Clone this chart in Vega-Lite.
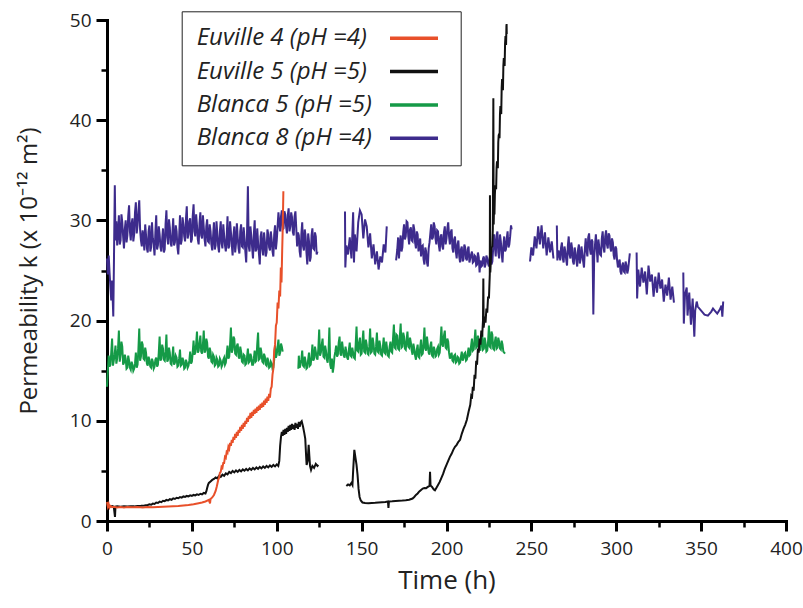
{
"$schema":"https://vega.github.io/schema/vega-lite/v6.json",
"width":679,"height":501,
"autosize":{"type":"none"},
"padding":{"left":107,"top":20,"right":17,"bottom":87},
"config":{"view":{"stroke":null},"font":"Open Sans"},
"datasets":{"pts":[
{"s":"B8","g":"a","t":0,"k":26.2},{"s":"B8","g":"a","t":0.5,"k":24.6},{"s":"B8","g":"a","t":1,"k":26.5},{"s":"B8","g":"a","t":1.5,"k":24.8},{"s":"B8","g":"a","t":2.5,"k":22},{"s":"B8","g":"a","t":3,"k":24},{"s":"B8","g":"a","t":3.7,"k":20.4},{"s":"B8","g":"a","t":4.1,"k":26},{"s":"B8","g":"a","t":4.6,"k":33.5},{"s":"B8","g":"a","t":5,"k":28},
{"s":"B8","g":"a","t":6,"k":27.5},{"s":"B8","g":"a","t":7,"k":30.5},{"s":"B8","g":"a","t":8,"k":28},{"s":"B8","g":"a","t":9,"k":29.8},{"s":"B8","g":"a","t":10,"k":27.2},{"s":"B8","g":"a","t":11,"k":30},{"s":"B8","g":"a","t":12,"k":28.5},{"s":"B8","g":"a","t":13,"k":31.5},{"s":"B8","g":"a","t":14,"k":28},{"s":"B8","g":"a","t":15,"k":30.2},
{"s":"B8","g":"a","t":16,"k":28.6},{"s":"B8","g":"a","t":17,"k":31.8},{"s":"B8","g":"a","t":18,"k":29.5},{"s":"B8","g":"a","t":19,"k":32},{"s":"B8","g":"a","t":20,"k":28},{"s":"B8","g":"a","t":21,"k":29},{"s":"B8","g":"a","t":22,"k":27},{"s":"B8","g":"a","t":23,"k":28.5},{"s":"B8","g":"a","t":24,"k":26.8},{"s":"B8","g":"a","t":25,"k":29.5},
{"s":"B8","g":"a","t":26,"k":27.3},{"s":"B8","g":"a","t":27,"k":28.2},{"s":"B8","g":"a","t":28,"k":26.5},{"s":"B8","g":"a","t":29,"k":30.5},{"s":"B8","g":"a","t":30,"k":27.5},{"s":"B8","g":"a","t":31,"k":28.6},{"s":"B8","g":"a","t":32,"k":26.9},{"s":"B8","g":"a","t":33,"k":29.2},{"s":"B8","g":"a","t":34,"k":27.1},{"s":"B8","g":"a","t":35,"k":31},
{"s":"B8","g":"a","t":36,"k":27.6},{"s":"B8","g":"a","t":37,"k":29.3},{"s":"B8","g":"a","t":38,"k":27.4},{"s":"B8","g":"a","t":39,"k":30.2},{"s":"B8","g":"a","t":40,"k":27.8},{"s":"B8","g":"a","t":41,"k":28.9},{"s":"B8","g":"a","t":42,"k":26.6},{"s":"B8","g":"a","t":43,"k":30.5},{"s":"B8","g":"a","t":44,"k":28},{"s":"B8","g":"a","t":45,"k":29.6},
{"s":"B8","g":"a","t":46,"k":27.9},{"s":"B8","g":"a","t":47,"k":31.4},{"s":"B8","g":"a","t":48,"k":28.6},{"s":"B8","g":"a","t":49,"k":30.2},{"s":"B8","g":"a","t":50,"k":28.1},{"s":"B8","g":"a","t":51,"k":31.6},{"s":"B8","g":"a","t":52,"k":28.4},{"s":"B8","g":"a","t":53,"k":29.5},{"s":"B8","g":"a","t":54,"k":27.6},{"s":"B8","g":"a","t":55,"k":30.8},
{"s":"B8","g":"a","t":56,"k":28.2},{"s":"B8","g":"a","t":57,"k":29.3},{"s":"B8","g":"a","t":58,"k":27.4},{"s":"B8","g":"a","t":59,"k":30.1},{"s":"B8","g":"a","t":60,"k":27.8},{"s":"B8","g":"a","t":61,"k":28.9},{"s":"B8","g":"a","t":62,"k":27},{"s":"B8","g":"a","t":63,"k":29.8},{"s":"B8","g":"a","t":64,"k":27.5},{"s":"B8","g":"a","t":65,"k":28.6},
{"s":"B8","g":"a","t":66,"k":26.8},{"s":"B8","g":"a","t":67,"k":29.9},{"s":"B8","g":"a","t":68,"k":27.2},{"s":"B8","g":"a","t":69,"k":28.5},{"s":"B8","g":"a","t":70,"k":26.9},{"s":"B8","g":"a","t":71,"k":30.4},{"s":"B8","g":"a","t":72,"k":27.4},{"s":"B8","g":"a","t":73,"k":28.8},{"s":"B8","g":"a","t":74,"k":26.5},{"s":"B8","g":"a","t":75,"k":29.4},
{"s":"B8","g":"a","t":76,"k":27.7},{"s":"B8","g":"a","t":77,"k":28.3},{"s":"B8","g":"a","t":78,"k":26.7},{"s":"B8","g":"a","t":79,"k":29.6},{"s":"B8","g":"a","t":80,"k":27.3},{"s":"B8","g":"a","t":81,"k":28.2},{"s":"B8","g":"a","t":82,"k":25.8},{"s":"B8","g":"a","t":83,"k":33.4},{"s":"B8","g":"a","t":84,"k":26.9},{"s":"B8","g":"a","t":85,"k":28.4},
{"s":"B8","g":"a","t":86,"k":26.2},{"s":"B8","g":"a","t":87,"k":30},{"s":"B8","g":"a","t":88,"k":27.1},{"s":"B8","g":"a","t":89,"k":27.8},{"s":"B8","g":"a","t":90,"k":25.6},{"s":"B8","g":"a","t":91,"k":28.9},{"s":"B8","g":"a","t":92,"k":26.5},{"s":"B8","g":"a","t":93,"k":27.9},{"s":"B8","g":"a","t":94,"k":26.8},{"s":"B8","g":"a","t":95,"k":28.6},
{"s":"B8","g":"a","t":96,"k":27},{"s":"B8","g":"a","t":97,"k":28.1},{"s":"B8","g":"a","t":98,"k":26.4},{"s":"B8","g":"a","t":99,"k":29.5},{"s":"B8","g":"a","t":100,"k":28},{"s":"B8","g":"a","t":101,"k":30.8},{"s":"B8","g":"a","t":102,"k":28.9},{"s":"B8","g":"a","t":103,"k":31},{"s":"B8","g":"a","t":104,"k":29.2},{"s":"B8","g":"a","t":105,"k":30.6},
{"s":"B8","g":"a","t":106,"k":28.7},{"s":"B8","g":"a","t":107,"k":31.2},{"s":"B8","g":"a","t":108,"k":29.4},{"s":"B8","g":"a","t":109,"k":30.3},{"s":"B8","g":"a","t":110,"k":28.5},{"s":"B8","g":"a","t":111,"k":30.9},{"s":"B8","g":"a","t":112,"k":27.4},{"s":"B8","g":"a","t":113,"k":28.5},{"s":"B8","g":"a","t":114,"k":26.3},{"s":"B8","g":"a","t":115,"k":29.8},
{"s":"B8","g":"a","t":116,"k":27},{"s":"B8","g":"a","t":117,"k":28.4},{"s":"B8","g":"a","t":118,"k":25.6},{"s":"B8","g":"a","t":119,"k":27.9},{"s":"B8","g":"a","t":120,"k":26.3},{"s":"B8","g":"a","t":121,"k":29.2},{"s":"B8","g":"a","t":122,"k":27.1},{"s":"B8","g":"a","t":123,"k":28.4},{"s":"B8","g":"a","t":124,"k":26.9},
{"s":"B8","g":"b","t":140.2,"k":30.9},{"s":"B8","g":"b","t":140.4,"k":25.3},{"s":"B8","g":"b","t":141,"k":27.5},{"s":"B8","g":"b","t":142,"k":26.6},{"s":"B8","g":"b","t":143,"k":28.3},{"s":"B8","g":"b","t":144,"k":26.2},{"s":"B8","g":"b","t":145,"k":30.8},{"s":"B8","g":"b","t":145.5,"k":25.8},{"s":"B8","g":"b","t":146,"k":28.6},{"s":"B8","g":"b","t":147,"k":26.9},
{"s":"B8","g":"b","t":148,"k":29.8},{"s":"B8","g":"b","t":149,"k":31},{"s":"B8","g":"b","t":150,"k":30.6},{"s":"B8","g":"b","t":151,"k":28.2},{"s":"B8","g":"b","t":152,"k":30.1},{"s":"B8","g":"b","t":153,"k":29.4},{"s":"B8","g":"b","t":154,"k":27.3},{"s":"B8","g":"b","t":155,"k":28.7},{"s":"B8","g":"b","t":156,"k":26.2},{"s":"B8","g":"b","t":157,"k":27.6},
{"s":"B8","g":"b","t":158,"k":25.6},{"s":"B8","g":"b","t":159,"k":26.9},{"s":"B8","g":"b","t":160,"k":25.1},{"s":"B8","g":"b","t":161,"k":26.4},{"s":"B8","g":"b","t":162,"k":25.8},{"s":"B8","g":"b","t":163,"k":27.6},{"s":"B8","g":"b","t":164,"k":26.8},{"s":"B8","g":"b","t":164.8,"k":29.4},
{"s":"B8","g":"c","t":170.3,"k":26},{"s":"B8","g":"c","t":171,"k":27.1},{"s":"B8","g":"c","t":172,"k":26.2},{"s":"B8","g":"c","t":173,"k":28.5},{"s":"B8","g":"c","t":174,"k":27.3},{"s":"B8","g":"c","t":175,"k":29.6},{"s":"B8","g":"c","t":176,"k":28.4},{"s":"B8","g":"c","t":177,"k":29.8},{"s":"B8","g":"c","t":178,"k":27.6},{"s":"B8","g":"c","t":179,"k":29.3},
{"s":"B8","g":"c","t":180,"k":27.9},{"s":"B8","g":"c","t":181,"k":29.1},{"s":"B8","g":"c","t":182,"k":27.2},{"s":"B8","g":"c","t":183,"k":28.6},{"s":"B8","g":"c","t":184,"k":27.5},{"s":"B8","g":"c","t":185,"k":26.4},{"s":"B8","g":"c","t":186,"k":27.5},{"s":"B8","g":"c","t":187,"k":25.6},{"s":"B8","g":"c","t":188,"k":26.9},{"s":"B8","g":"c","t":189,"k":25.4},
{"s":"B8","g":"c","t":190,"k":27.8},{"s":"B8","g":"c","t":191,"k":29.6},{"s":"B8","g":"c","t":192,"k":28.3},{"s":"B8","g":"c","t":193,"k":29.4},{"s":"B8","g":"c","t":194,"k":27.6},{"s":"B8","g":"c","t":195,"k":28.9},{"s":"B8","g":"c","t":196,"k":26.9},{"s":"B8","g":"c","t":197,"k":28.6},{"s":"B8","g":"c","t":198,"k":27.1},{"s":"B8","g":"c","t":199,"k":29.4},
{"s":"B8","g":"c","t":200,"k":28.2},{"s":"B8","g":"c","t":201,"k":29.8},{"s":"B8","g":"c","t":202,"k":27.6},{"s":"B8","g":"c","t":203,"k":29.1},{"s":"B8","g":"c","t":204,"k":26.8},{"s":"B8","g":"c","t":205,"k":28.4},{"s":"B8","g":"c","t":206,"k":26.2},{"s":"B8","g":"c","t":207,"k":28},{"s":"B8","g":"c","t":208,"k":25.8},{"s":"B8","g":"c","t":209,"k":27.4},
{"s":"B8","g":"c","t":210,"k":26.1},{"s":"B8","g":"c","t":211,"k":27.3},{"s":"B8","g":"c","t":212,"k":26},{"s":"B8","g":"c","t":213,"k":27.4},{"s":"B8","g":"c","t":214,"k":26.2},{"s":"B8","g":"c","t":215,"k":26.9},{"s":"B8","g":"c","t":216,"k":25.9},{"s":"B8","g":"c","t":217,"k":26.4},{"s":"B8","g":"c","t":218,"k":25.6},{"s":"B8","g":"c","t":219,"k":26.3},
{"s":"B8","g":"c","t":219.5,"k":24.8},{"s":"B8","g":"c","t":220,"k":26},{"s":"B8","g":"c","t":221,"k":25.5},{"s":"B8","g":"c","t":222,"k":26.4},{"s":"B8","g":"c","t":223,"k":25.6},{"s":"B8","g":"c","t":224,"k":26.2},{"s":"B8","g":"c","t":225,"k":25.4},{"s":"B8","g":"c","t":226,"k":26.1},{"s":"B8","g":"c","t":227,"k":25.9},{"s":"B8","g":"c","t":228,"k":28.6},
{"s":"B8","g":"c","t":229,"k":26.4},{"s":"B8","g":"c","t":230,"k":28.9},{"s":"B8","g":"c","t":231,"k":26.2},{"s":"B8","g":"c","t":232,"k":27.9},{"s":"B8","g":"c","t":233,"k":25.8},{"s":"B8","g":"c","t":234,"k":28.4},{"s":"B8","g":"c","t":235,"k":27.1},{"s":"B8","g":"c","t":236,"k":28.9},{"s":"B8","g":"c","t":237,"k":27.6},{"s":"B8","g":"c","t":238,"k":29.5},{"s":"B8","g":"c","t":238.4,"k":29.1},
{"s":"B8","g":"d","t":249.2,"k":25.9},{"s":"B8","g":"d","t":250,"k":27.3},{"s":"B8","g":"d","t":251,"k":26.5},{"s":"B8","g":"d","t":252,"k":28.4},{"s":"B8","g":"d","t":253,"k":27.2},{"s":"B8","g":"d","t":254,"k":29.4},{"s":"B8","g":"d","t":255,"k":27.6},{"s":"B8","g":"d","t":256,"k":29.5},{"s":"B8","g":"d","t":257,"k":27.2},{"s":"B8","g":"d","t":258,"k":28.8},
{"s":"B8","g":"d","t":259,"k":26.5},{"s":"B8","g":"d","t":260,"k":28.3},{"s":"B8","g":"d","t":261,"k":26.8},{"s":"B8","g":"d","t":262,"k":27.9},{"s":"B8","g":"d","t":263,"k":26.2},
{"s":"B8","g":"e","t":265,"k":29.5},{"s":"B8","g":"e","t":265.3,"k":26},{"s":"B8","g":"e","t":266,"k":27},{"s":"B8","g":"e","t":267,"k":26},{"s":"B8","g":"e","t":268,"k":27.8},{"s":"B8","g":"e","t":269,"k":25.8},{"s":"B8","g":"e","t":270,"k":26.9},{"s":"B8","g":"e","t":271,"k":25.5},{"s":"B8","g":"e","t":272,"k":28.4},{"s":"B8","g":"e","t":273,"k":26.2},
{"s":"B8","g":"e","t":274,"k":27.2},{"s":"B8","g":"e","t":275,"k":25.6},{"s":"B8","g":"e","t":276,"k":26.8},{"s":"B8","g":"e","t":277,"k":25.4},{"s":"B8","g":"e","t":278,"k":27.6},{"s":"B8","g":"e","t":279,"k":26.1},{"s":"B8","g":"e","t":280,"k":26.7},{"s":"B8","g":"e","t":281,"k":25.3},{"s":"B8","g":"e","t":282,"k":28.2},{"s":"B8","g":"e","t":283,"k":26.4},
{"s":"B8","g":"e","t":284,"k":28.7},{"s":"B8","g":"e","t":285,"k":26.6},{"s":"B8","g":"e","t":286,"k":27.9},{"s":"B8","g":"e","t":286.5,"k":20.6},{"s":"B8","g":"e","t":287,"k":26.3},{"s":"B8","g":"e","t":288,"k":28.6},{"s":"B8","g":"e","t":289,"k":25.8},{"s":"B8","g":"e","t":290,"k":27.3},{"s":"B8","g":"e","t":291,"k":26.5},{"s":"B8","g":"e","t":292,"k":28.9},
{"s":"B8","g":"e","t":293,"k":26.8},{"s":"B8","g":"e","t":294,"k":29},{"s":"B8","g":"e","t":295,"k":27.2},{"s":"B8","g":"e","t":296,"k":28.5},{"s":"B8","g":"e","t":297,"k":26.9},{"s":"B8","g":"e","t":298,"k":27.8},{"s":"B8","g":"e","t":299,"k":26.1},{"s":"B8","g":"e","t":300,"k":27.2},{"s":"B8","g":"e","t":301,"k":25.3},{"s":"B8","g":"e","t":302,"k":26.1},
{"s":"B8","g":"e","t":303,"k":24.6},{"s":"B8","g":"e","t":304,"k":25.8},{"s":"B8","g":"e","t":305,"k":24.8},{"s":"B8","g":"e","t":306,"k":25.5},{"s":"B8","g":"e","t":307,"k":25.1},{"s":"B8","g":"e","t":308,"k":26.7},
{"s":"B8","g":"f","t":312,"k":26.8},{"s":"B8","g":"f","t":312.3,"k":22.2},{"s":"B8","g":"f","t":313,"k":25.1},{"s":"B8","g":"f","t":314,"k":23.4},{"s":"B8","g":"f","t":315,"k":25.3},{"s":"B8","g":"f","t":316,"k":23.8},{"s":"B8","g":"f","t":317,"k":24.9},{"s":"B8","g":"f","t":318,"k":22.6},{"s":"B8","g":"f","t":319,"k":25.5},{"s":"B8","g":"f","t":320,"k":23.9},
{"s":"B8","g":"f","t":321,"k":24.6},{"s":"B8","g":"f","t":322,"k":22.4},{"s":"B8","g":"f","t":323,"k":24.4},{"s":"B8","g":"f","t":324,"k":22.8},{"s":"B8","g":"f","t":325,"k":24.8},{"s":"B8","g":"f","t":326,"k":23.2},{"s":"B8","g":"f","t":327,"k":24.1},{"s":"B8","g":"f","t":328,"k":21.9},{"s":"B8","g":"f","t":329,"k":23.6},{"s":"B8","g":"f","t":330,"k":22.5},
{"s":"B8","g":"f","t":331,"k":24.3},{"s":"B8","g":"f","t":332,"k":22.1},{"s":"B8","g":"f","t":333,"k":23.4},{"s":"B8","g":"f","t":334,"k":21.8},
{"s":"B8","g":"g","t":339.5,"k":24.8},{"s":"B8","g":"g","t":339.8,"k":19.7},{"s":"B8","g":"g","t":340.5,"k":22.6},{"s":"B8","g":"g","t":341.5,"k":23.3},{"s":"B8","g":"g","t":342,"k":20.5},{"s":"B8","g":"g","t":343,"k":22.8},{"s":"B8","g":"g","t":344,"k":19.6},{"s":"B8","g":"g","t":345,"k":22.2},{"s":"B8","g":"g","t":346,"k":18.4},{"s":"B8","g":"g","t":346.5,"k":21},
{"s":"B8","g":"g","t":347.4,"k":21.9},{"s":"B8","g":"g","t":348,"k":21.4},{"s":"B8","g":"g","t":350,"k":21},{"s":"B8","g":"g","t":352,"k":20.6},{"s":"B8","g":"g","t":354,"k":20.5},{"s":"B8","g":"g","t":356,"k":20.9},{"s":"B8","g":"g","t":357,"k":21.2},{"s":"B8","g":"g","t":358,"k":21},{"s":"B8","g":"g","t":359.5,"k":20.7},{"s":"B8","g":"g","t":361,"k":21.1},
{"s":"B8","g":"g","t":362,"k":21.5},{"s":"B8","g":"g","t":362.5,"k":20.4},{"s":"B8","g":"g","t":363,"k":21.9},
{"s":"B5","g":"a","t":0,"k":13.4},{"s":"B5","g":"a","t":0.5,"k":15},{"s":"B5","g":"a","t":1,"k":16.5},{"s":"B5","g":"a","t":2,"k":15.6},{"s":"B5","g":"a","t":3,"k":18.2},{"s":"B5","g":"a","t":4,"k":16},{"s":"B5","g":"a","t":5,"k":17.5},{"s":"B5","g":"a","t":6,"k":16.2},{"s":"B5","g":"a","t":7,"k":19},{"s":"B5","g":"a","t":8,"k":16.6},
{"s":"B5","g":"a","t":9,"k":17.4},{"s":"B5","g":"a","t":10,"k":15.8},{"s":"B5","g":"a","t":11,"k":16.2},{"s":"B5","g":"a","t":12,"k":15.3},{"s":"B5","g":"a","t":13,"k":16},{"s":"B5","g":"a","t":14,"k":15.1},{"s":"B5","g":"a","t":15,"k":15.6},{"s":"B5","g":"a","t":16,"k":15.2},{"s":"B5","g":"a","t":17,"k":16.8},{"s":"B5","g":"a","t":18,"k":15.6},
{"s":"B5","g":"a","t":19,"k":19.2},{"s":"B5","g":"a","t":20,"k":16.4},{"s":"B5","g":"a","t":21,"k":17.6},{"s":"B5","g":"a","t":22,"k":16.1},{"s":"B5","g":"a","t":23,"k":16.8},{"s":"B5","g":"a","t":24,"k":15.5},{"s":"B5","g":"a","t":25,"k":16.1},{"s":"B5","g":"a","t":26,"k":15.3},{"s":"B5","g":"a","t":27,"k":15.9},{"s":"B5","g":"a","t":28,"k":15.4},
{"s":"B5","g":"a","t":29,"k":16.3},{"s":"B5","g":"a","t":30,"k":15.6},{"s":"B5","g":"a","t":31,"k":18.4},{"s":"B5","g":"a","t":32,"k":16.2},{"s":"B5","g":"a","t":33,"k":17.2},{"s":"B5","g":"a","t":34,"k":16},{"s":"B5","g":"a","t":35,"k":18.6},{"s":"B5","g":"a","t":36,"k":16.1},{"s":"B5","g":"a","t":37,"k":16.8},{"s":"B5","g":"a","t":38,"k":15.6},
{"s":"B5","g":"a","t":39,"k":17.4},{"s":"B5","g":"a","t":40,"k":15.8},{"s":"B5","g":"a","t":41,"k":16.3},{"s":"B5","g":"a","t":42,"k":15.5},{"s":"B5","g":"a","t":43,"k":17.1},{"s":"B5","g":"a","t":44,"k":15.6},{"s":"B5","g":"a","t":45,"k":16},{"s":"B5","g":"a","t":46,"k":15.3},{"s":"B5","g":"a","t":47,"k":15.8},{"s":"B5","g":"a","t":48,"k":15.5},
{"s":"B5","g":"a","t":49,"k":16.9},{"s":"B5","g":"a","t":50,"k":15.9},{"s":"B5","g":"a","t":51,"k":18},{"s":"B5","g":"a","t":52,"k":16.8},{"s":"B5","g":"a","t":53,"k":18.9},{"s":"B5","g":"a","t":54,"k":17},{"s":"B5","g":"a","t":55,"k":18.5},{"s":"B5","g":"a","t":56,"k":16.7},{"s":"B5","g":"a","t":57,"k":19},{"s":"B5","g":"a","t":58,"k":17},
{"s":"B5","g":"a","t":59,"k":17.8},{"s":"B5","g":"a","t":60,"k":16.2},{"s":"B5","g":"a","t":61,"k":16.9},{"s":"B5","g":"a","t":62,"k":15.8},{"s":"B5","g":"a","t":63,"k":16.4},{"s":"B5","g":"a","t":64,"k":15.6},{"s":"B5","g":"a","t":65,"k":16.1},{"s":"B5","g":"a","t":66,"k":15.5},{"s":"B5","g":"a","t":67,"k":16},{"s":"B5","g":"a","t":68,"k":15.6},
{"s":"B5","g":"a","t":69,"k":16.3},{"s":"B5","g":"a","t":70,"k":15.8},{"s":"B5","g":"a","t":71,"k":17.5},{"s":"B5","g":"a","t":72,"k":16.4},{"s":"B5","g":"a","t":73,"k":19.3},{"s":"B5","g":"a","t":74,"k":17.1},{"s":"B5","g":"a","t":75,"k":18.2},{"s":"B5","g":"a","t":76,"k":16.6},{"s":"B5","g":"a","t":77,"k":17.7},{"s":"B5","g":"a","t":78,"k":16.2},
{"s":"B5","g":"a","t":79,"k":16.9},{"s":"B5","g":"a","t":80,"k":15.8},{"s":"B5","g":"a","t":81,"k":16.5},{"s":"B5","g":"a","t":82,"k":15.7},{"s":"B5","g":"a","t":83,"k":17.2},{"s":"B5","g":"a","t":84,"k":15.9},{"s":"B5","g":"a","t":85,"k":16.4},{"s":"B5","g":"a","t":86,"k":15.6},{"s":"B5","g":"a","t":87,"k":17},{"s":"B5","g":"a","t":88,"k":16},
{"s":"B5","g":"a","t":89,"k":18.8},{"s":"B5","g":"a","t":90,"k":16.2},{"s":"B5","g":"a","t":91,"k":16.8},{"s":"B5","g":"a","t":92,"k":15.8},{"s":"B5","g":"a","t":93,"k":16.4},{"s":"B5","g":"a","t":94,"k":15.5},{"s":"B5","g":"a","t":95,"k":16},{"s":"B5","g":"a","t":96,"k":15.4},{"s":"B5","g":"a","t":97,"k":15.7},{"s":"B5","g":"a","t":98,"k":15.3},
{"s":"B5","g":"a","t":99,"k":17.5},{"s":"B5","g":"a","t":100,"k":16.6},{"s":"B5","g":"a","t":101,"k":18.1},{"s":"B5","g":"a","t":102,"k":16.8},{"s":"B5","g":"a","t":103,"k":17.4},{"s":"B5","g":"a","t":103.5,"k":16.9},
{"s":"B5","g":"b","t":112.7,"k":15.2},{"s":"B5","g":"b","t":113,"k":16.5},{"s":"B5","g":"b","t":114,"k":15.6},{"s":"B5","g":"b","t":115,"k":17},{"s":"B5","g":"b","t":116,"k":15.4},{"s":"B5","g":"b","t":117,"k":15.9},{"s":"B5","g":"b","t":118,"k":15.3},{"s":"B5","g":"b","t":119,"k":16.8},{"s":"B5","g":"b","t":120,"k":15.6},{"s":"B5","g":"b","t":121,"k":17.6},
{"s":"B5","g":"b","t":122,"k":16.2},{"s":"B5","g":"b","t":123,"k":16.9},{"s":"B5","g":"b","t":124,"k":16.1},{"s":"B5","g":"b","t":125,"k":19.1},{"s":"B5","g":"b","t":126,"k":16.8},{"s":"B5","g":"b","t":127,"k":18.2},{"s":"B5","g":"b","t":128,"k":16.3},{"s":"B5","g":"b","t":129,"k":17},{"s":"B5","g":"b","t":130,"k":15.8},{"s":"B5","g":"b","t":131,"k":19.3},
{"s":"B5","g":"b","t":132,"k":15.2},{"s":"B5","g":"b","t":133,"k":14.8},{"s":"B5","g":"b","t":134,"k":16.4},{"s":"B5","g":"b","t":135,"k":17.5},{"s":"B5","g":"b","t":136,"k":16.6},{"s":"B5","g":"b","t":137,"k":18.4},{"s":"B5","g":"b","t":138,"k":16.5},{"s":"B5","g":"b","t":139,"k":17.2},{"s":"B5","g":"b","t":140,"k":16.3},{"s":"B5","g":"b","t":141,"k":16.9},
{"s":"B5","g":"b","t":142,"k":16.1},{"s":"B5","g":"b","t":143,"k":17.8},{"s":"B5","g":"b","t":144,"k":16.4},{"s":"B5","g":"b","t":145,"k":16.8},{"s":"B5","g":"b","t":146,"k":16.2},{"s":"B5","g":"b","t":147,"k":19.4},{"s":"B5","g":"b","t":148,"k":16.9},{"s":"B5","g":"b","t":149,"k":18.3},{"s":"B5","g":"b","t":150,"k":16.7},{"s":"B5","g":"b","t":151,"k":19},
{"s":"B5","g":"b","t":152,"k":16.8},{"s":"B5","g":"b","t":153,"k":17.6},{"s":"B5","g":"b","t":154,"k":16.6},{"s":"B5","g":"b","t":155,"k":19.2},{"s":"B5","g":"b","t":156,"k":16.9},{"s":"B5","g":"b","t":157,"k":17.7},{"s":"B5","g":"b","t":158,"k":16.6},{"s":"B5","g":"b","t":159,"k":18.8},{"s":"B5","g":"b","t":160,"k":16.8},{"s":"B5","g":"b","t":161,"k":17.5},
{"s":"B5","g":"b","t":162,"k":16.5},{"s":"B5","g":"b","t":163,"k":18.3},{"s":"B5","g":"b","t":164,"k":16.7},{"s":"B5","g":"b","t":165,"k":17.2},{"s":"B5","g":"b","t":166,"k":16.4},{"s":"B5","g":"b","t":167,"k":17.9},{"s":"B5","g":"b","t":168,"k":16.8},{"s":"B5","g":"b","t":169,"k":19.6},{"s":"B5","g":"b","t":170,"k":17.2},{"s":"B5","g":"b","t":171,"k":18.5},
{"s":"B5","g":"b","t":172,"k":17.1},{"s":"B5","g":"b","t":173,"k":19.7},{"s":"B5","g":"b","t":174,"k":17.4},{"s":"B5","g":"b","t":175,"k":18.4},{"s":"B5","g":"b","t":176,"k":17.1},{"s":"B5","g":"b","t":177,"k":18.9},{"s":"B5","g":"b","t":178,"k":17.3},{"s":"B5","g":"b","t":179,"k":17.8},{"s":"B5","g":"b","t":180,"k":16.6},{"s":"B5","g":"b","t":181,"k":17.2},
{"s":"B5","g":"b","t":182,"k":16.1},{"s":"B5","g":"b","t":183,"k":17.6},{"s":"B5","g":"b","t":184,"k":16.3},{"s":"B5","g":"b","t":185,"k":18.1},{"s":"B5","g":"b","t":186,"k":16.7},{"s":"B5","g":"b","t":187,"k":19.3},{"s":"B5","g":"b","t":188,"k":17},{"s":"B5","g":"b","t":189,"k":17.6},{"s":"B5","g":"b","t":190,"k":16.6},{"s":"B5","g":"b","t":191,"k":17.9},
{"s":"B5","g":"b","t":192,"k":16.4},{"s":"B5","g":"b","t":193,"k":17.1},{"s":"B5","g":"b","t":194,"k":16.5},{"s":"B5","g":"b","t":195,"k":17.4},{"s":"B5","g":"b","t":196,"k":16.8},{"s":"B5","g":"b","t":197,"k":19.4},{"s":"B5","g":"b","t":198,"k":17.4},{"s":"B5","g":"b","t":199,"k":19},{"s":"B5","g":"b","t":200,"k":17.2},{"s":"B5","g":"b","t":201,"k":17.9},
{"s":"B5","g":"b","t":202,"k":16.2},{"s":"B5","g":"b","t":203,"k":16.8},{"s":"B5","g":"b","t":204,"k":15.9},{"s":"B5","g":"b","t":205,"k":16.6},{"s":"B5","g":"b","t":206,"k":15.9},{"s":"B5","g":"b","t":207,"k":16.3},{"s":"B5","g":"b","t":208,"k":15.8},{"s":"B5","g":"b","t":209,"k":16.9},{"s":"B5","g":"b","t":210,"k":16.2},{"s":"B5","g":"b","t":211,"k":16.8},
{"s":"B5","g":"b","t":212,"k":16.1},{"s":"B5","g":"b","t":213,"k":17.3},{"s":"B5","g":"b","t":214,"k":16.6},{"s":"B5","g":"b","t":215,"k":18.2},{"s":"B5","g":"b","t":216,"k":17.1},{"s":"B5","g":"b","t":217,"k":19.1},{"s":"B5","g":"b","t":218,"k":17.4},{"s":"B5","g":"b","t":219,"k":18},{"s":"B5","g":"b","t":220,"k":17},{"s":"B5","g":"b","t":221,"k":18.7},
{"s":"B5","g":"b","t":222,"k":17.2},{"s":"B5","g":"b","t":223,"k":17.8},{"s":"B5","g":"b","t":224,"k":17},{"s":"B5","g":"b","t":225,"k":19.5},{"s":"B5","g":"b","t":226,"k":17.3},{"s":"B5","g":"b","t":227,"k":18.6},{"s":"B5","g":"b","t":228,"k":17.1},{"s":"B5","g":"b","t":229,"k":18.4},{"s":"B5","g":"b","t":230,"k":17.3},{"s":"B5","g":"b","t":231,"k":17.9},
{"s":"B5","g":"b","t":232,"k":17.1},{"s":"B5","g":"b","t":233,"k":17.6},{"s":"B5","g":"b","t":234,"k":16.8},{"s":"B5","g":"b","t":234.5,"k":16.7},
{"s":"E5","g":"a","t":0,"k":1.7},{"s":"E5","g":"a","t":0.5,"k":1.45},{"s":"E5","g":"a","t":1,"k":1.55},{"s":"E5","g":"a","t":2,"k":1.45},{"s":"E5","g":"a","t":3,"k":1.5},{"s":"E5","g":"a","t":4,"k":1.42},{"s":"E5","g":"a","t":4.7,"k":0.4},{"s":"E5","g":"a","t":5,"k":1.45},{"s":"E5","g":"a","t":6,"k":1.48},{"s":"E5","g":"a","t":8,"k":1.42},
{"s":"E5","g":"a","t":10,"k":1.46},{"s":"E5","g":"a","t":12,"k":1.44},{"s":"E5","g":"a","t":14,"k":1.47},{"s":"E5","g":"a","t":16,"k":1.46},{"s":"E5","g":"a","t":18,"k":1.5},{"s":"E5","g":"a","t":20,"k":1.52},{"s":"E5","g":"a","t":22,"k":1.55},{"s":"E5","g":"a","t":24,"k":1.6},{"s":"E5","g":"a","t":25,"k":1.66},{"s":"E5","g":"a","t":26,"k":1.62},
{"s":"E5","g":"a","t":27,"k":1.74},{"s":"E5","g":"a","t":28,"k":1.7},{"s":"E5","g":"a","t":29,"k":1.84},{"s":"E5","g":"a","t":30,"k":1.8},{"s":"E5","g":"a","t":31,"k":1.93},{"s":"E5","g":"a","t":32,"k":1.88},{"s":"E5","g":"a","t":33,"k":2.02},{"s":"E5","g":"a","t":34,"k":1.98},{"s":"E5","g":"a","t":35,"k":2.1},{"s":"E5","g":"a","t":36,"k":2.05},
{"s":"E5","g":"a","t":37,"k":2.18},{"s":"E5","g":"a","t":38,"k":2.12},{"s":"E5","g":"a","t":39,"k":2.26},{"s":"E5","g":"a","t":40,"k":2.2},{"s":"E5","g":"a","t":41,"k":2.32},{"s":"E5","g":"a","t":42,"k":2.27},{"s":"E5","g":"a","t":43,"k":2.38},{"s":"E5","g":"a","t":44,"k":2.33},{"s":"E5","g":"a","t":45,"k":2.45},{"s":"E5","g":"a","t":46,"k":2.4},
{"s":"E5","g":"a","t":47,"k":2.5},{"s":"E5","g":"a","t":48,"k":2.45},{"s":"E5","g":"a","t":49,"k":2.56},{"s":"E5","g":"a","t":50,"k":2.5},{"s":"E5","g":"a","t":51,"k":2.6},{"s":"E5","g":"a","t":52,"k":2.55},{"s":"E5","g":"a","t":53,"k":2.66},{"s":"E5","g":"a","t":54,"k":2.6},{"s":"E5","g":"a","t":55,"k":2.72},{"s":"E5","g":"a","t":56,"k":2.66},
{"s":"E5","g":"a","t":57,"k":2.8},{"s":"E5","g":"a","t":58,"k":2.75},{"s":"E5","g":"a","t":58.5,"k":2.95},{"s":"E5","g":"a","t":59,"k":3.3},{"s":"E5","g":"a","t":59.5,"k":3.6},{"s":"E5","g":"a","t":60,"k":3.8},{"s":"E5","g":"a","t":61,"k":3.95},{"s":"E5","g":"a","t":62,"k":4.1},{"s":"E5","g":"a","t":63,"k":4.2},{"s":"E5","g":"a","t":64,"k":4.35},
{"s":"E5","g":"a","t":65,"k":4.25},{"s":"E5","g":"a","t":66,"k":4.5},{"s":"E5","g":"a","t":67,"k":4.4},{"s":"E5","g":"a","t":68,"k":4.62},{"s":"E5","g":"a","t":69,"k":4.5},{"s":"E5","g":"a","t":70,"k":4.75},{"s":"E5","g":"a","t":71,"k":4.65},{"s":"E5","g":"a","t":72,"k":4.9},{"s":"E5","g":"a","t":73,"k":4.78},{"s":"E5","g":"a","t":74,"k":5},
{"s":"E5","g":"a","t":75,"k":4.85},{"s":"E5","g":"a","t":76,"k":5.05},{"s":"E5","g":"a","t":77,"k":4.9},{"s":"E5","g":"a","t":78,"k":5.1},{"s":"E5","g":"a","t":79,"k":4.95},{"s":"E5","g":"a","t":80,"k":5.15},{"s":"E5","g":"a","t":81,"k":5.02},{"s":"E5","g":"a","t":82,"k":5.2},{"s":"E5","g":"a","t":83,"k":5.05},{"s":"E5","g":"a","t":84,"k":5.25},
{"s":"E5","g":"a","t":85,"k":5.1},{"s":"E5","g":"a","t":86,"k":5.3},{"s":"E5","g":"a","t":87,"k":5.15},{"s":"E5","g":"a","t":88,"k":5.35},{"s":"E5","g":"a","t":89,"k":5.2},{"s":"E5","g":"a","t":90,"k":5.4},{"s":"E5","g":"a","t":91,"k":5.25},{"s":"E5","g":"a","t":92,"k":5.45},{"s":"E5","g":"a","t":93,"k":5.3},{"s":"E5","g":"a","t":94,"k":5.5},
{"s":"E5","g":"a","t":95,"k":5.35},{"s":"E5","g":"a","t":96,"k":5.55},{"s":"E5","g":"a","t":97,"k":5.4},{"s":"E5","g":"a","t":98,"k":5.6},{"s":"E5","g":"a","t":99,"k":5.45},{"s":"E5","g":"a","t":100,"k":5.65},{"s":"E5","g":"a","t":100.9,"k":5.5},{"s":"E5","g":"a","t":101.5,"k":6},{"s":"E5","g":"a","t":102,"k":7.5},{"s":"E5","g":"a","t":102.5,"k":8.4},
{"s":"E5","g":"a","t":103,"k":8.9},{"s":"E5","g":"a","t":103.5,"k":8.5},{"s":"E5","g":"a","t":104,"k":9.1},{"s":"E5","g":"a","t":104.5,"k":8.6},{"s":"E5","g":"a","t":105,"k":9.2},{"s":"E5","g":"a","t":105.5,"k":8.7},{"s":"E5","g":"a","t":106,"k":9.3},{"s":"E5","g":"a","t":106.5,"k":8.9},{"s":"E5","g":"a","t":107,"k":9.5},{"s":"E5","g":"a","t":107.5,"k":9},
{"s":"E5","g":"a","t":108,"k":9.6},{"s":"E5","g":"a","t":108.5,"k":9.1},{"s":"E5","g":"a","t":109,"k":9.7},{"s":"E5","g":"a","t":109.5,"k":9.2},{"s":"E5","g":"a","t":110,"k":9.6},{"s":"E5","g":"a","t":110.5,"k":9.1},{"s":"E5","g":"a","t":111,"k":9.8},{"s":"E5","g":"a","t":111.5,"k":9.3},{"s":"E5","g":"a","t":112,"k":9.7},{"s":"E5","g":"a","t":112.5,"k":9.2},
{"s":"E5","g":"a","t":113,"k":9.9},{"s":"E5","g":"a","t":113.5,"k":9.4},{"s":"E5","g":"a","t":114,"k":9.8},{"s":"E5","g":"a","t":114.7,"k":9.95},{"s":"E5","g":"a","t":115.5,"k":9.4},{"s":"E5","g":"a","t":116.2,"k":8.8},{"s":"E5","g":"a","t":116.8,"k":8.2},{"s":"E5","g":"a","t":117.3,"k":6.5},{"s":"E5","g":"a","t":117.6,"k":5.6},{"s":"E5","g":"a","t":118.2,"k":6},
{"s":"E5","g":"a","t":118.8,"k":7.6},{"s":"E5","g":"a","t":119.2,"k":6.5},{"s":"E5","g":"a","t":119.6,"k":5.5},{"s":"E5","g":"a","t":120.2,"k":5.1},{"s":"E5","g":"a","t":121,"k":5.5},{"s":"E5","g":"a","t":122,"k":5.3},{"s":"E5","g":"a","t":123,"k":5.7},{"s":"E5","g":"a","t":124,"k":5.5},{"s":"E5","g":"a","t":124.5,"k":5.6},
{"s":"E5","g":"b","t":141,"k":3.5},{"s":"E5","g":"b","t":142,"k":3.65},{"s":"E5","g":"b","t":143,"k":3.55},{"s":"E5","g":"b","t":144,"k":3.8},{"s":"E5","g":"b","t":144.6,"k":3.6},{"s":"E5","g":"b","t":145,"k":5},{"s":"E5","g":"b","t":145.7,"k":7.1},{"s":"E5","g":"b","t":146.3,"k":6.4},{"s":"E5","g":"b","t":147,"k":5.6},{"s":"E5","g":"b","t":147.6,"k":4.6},
{"s":"E5","g":"b","t":148.2,"k":3.2},{"s":"E5","g":"b","t":148.8,"k":2.4},{"s":"E5","g":"b","t":149.5,"k":2.05},{"s":"E5","g":"b","t":150.5,"k":1.85},{"s":"E5","g":"b","t":152,"k":1.8},{"s":"E5","g":"b","t":154,"k":1.78},{"s":"E5","g":"b","t":156,"k":1.8},{"s":"E5","g":"b","t":158,"k":1.82},{"s":"E5","g":"b","t":160,"k":1.85},{"s":"E5","g":"b","t":162,"k":1.88},
{"s":"E5","g":"b","t":164,"k":1.9},{"s":"E5","g":"b","t":165.5,"k":1.95},{"s":"E5","g":"b","t":165.8,"k":1.3},{"s":"E5","g":"b","t":166.1,"k":1.95},{"s":"E5","g":"b","t":168,"k":1.97},{"s":"E5","g":"b","t":170,"k":2},{"s":"E5","g":"b","t":172,"k":2.03},{"s":"E5","g":"b","t":174,"k":2.05},{"s":"E5","g":"b","t":176,"k":2.08},{"s":"E5","g":"b","t":178,"k":2.12},
{"s":"E5","g":"b","t":180,"k":2.24},{"s":"E5","g":"b","t":181,"k":2.4},{"s":"E5","g":"b","t":182,"k":2.6},{"s":"E5","g":"b","t":183,"k":2.75},{"s":"E5","g":"b","t":184,"k":2.95},{"s":"E5","g":"b","t":185,"k":3.1},{"s":"E5","g":"b","t":186,"k":3.24},{"s":"E5","g":"b","t":187,"k":3.3},{"s":"E5","g":"b","t":188,"k":3.28},{"s":"E5","g":"b","t":189,"k":3.4},
{"s":"E5","g":"b","t":190,"k":3.5},{"s":"E5","g":"b","t":190.3,"k":4.9},{"s":"E5","g":"b","t":190.6,"k":3.55},{"s":"E5","g":"b","t":191.5,"k":3.4},{"s":"E5","g":"b","t":192.5,"k":3.15},{"s":"E5","g":"b","t":193.2,"k":3.07},{"s":"E5","g":"b","t":194,"k":3.3},{"s":"E5","g":"b","t":195,"k":3.6},{"s":"E5","g":"b","t":196,"k":3.9},{"s":"E5","g":"b","t":197,"k":4.3},
{"s":"E5","g":"b","t":198,"k":4.7},{"s":"E5","g":"b","t":199,"k":5.2},{"s":"E5","g":"b","t":200,"k":5.6},{"s":"E5","g":"b","t":201,"k":6},{"s":"E5","g":"b","t":202,"k":6.4},{"s":"E5","g":"b","t":203,"k":6.7},{"s":"E5","g":"b","t":204,"k":7.1},{"s":"E5","g":"b","t":205,"k":7.4},{"s":"E5","g":"b","t":206,"k":7.6},{"s":"E5","g":"b","t":207,"k":7.9},
{"s":"E5","g":"b","t":208,"k":8.1},{"s":"E5","g":"b","t":209,"k":8.7},{"s":"E5","g":"b","t":210,"k":9.2},{"s":"E5","g":"b","t":211,"k":9.6},{"s":"E5","g":"b","t":212,"k":10.1},{"s":"E5","g":"b","t":213,"k":10.9},{"s":"E5","g":"b","t":214,"k":11.6},{"s":"E5","g":"b","t":214.5,"k":12.4},{"s":"E5","g":"b","t":215,"k":12.2},{"s":"E5","g":"b","t":215.5,"k":13.4},
{"s":"E5","g":"b","t":216,"k":13},{"s":"E5","g":"b","t":216.5,"k":14.6},{"s":"E5","g":"b","t":217,"k":14.2},{"s":"E5","g":"b","t":217.5,"k":16},{"s":"E5","g":"b","t":218,"k":15.6},{"s":"E5","g":"b","t":218.5,"k":17.2},{"s":"E5","g":"b","t":219,"k":16.8},{"s":"E5","g":"b","t":219.5,"k":18.2},{"s":"E5","g":"b","t":220,"k":17.6},{"s":"E5","g":"b","t":220.5,"k":19},
{"s":"E5","g":"b","t":221,"k":18.4},{"s":"E5","g":"b","t":221.5,"k":20},{"s":"E5","g":"b","t":221.7,"k":24.2},{"s":"E5","g":"b","t":221.9,"k":19.3},{"s":"E5","g":"b","t":222.5,"k":20.4},{"s":"E5","g":"b","t":223,"k":19.8},{"s":"E5","g":"b","t":223.5,"k":21.2},{"s":"E5","g":"b","t":224,"k":20.8},{"s":"E5","g":"b","t":224.5,"k":22.4},{"s":"E5","g":"b","t":225,"k":22.2},
{"s":"E5","g":"b","t":225.5,"k":24.6},{"s":"E5","g":"b","t":225.6,"k":32.5},{"s":"E5","g":"b","t":225.8,"k":24.8},{"s":"E5","g":"b","t":226,"k":25.5},{"s":"E5","g":"b","t":226.5,"k":27.3},{"s":"E5","g":"b","t":227,"k":27.4},{"s":"E5","g":"b","t":227.3,"k":29.2},{"s":"E5","g":"b","t":227.6,"k":42.2},{"s":"E5","g":"b","t":227.8,"k":29.6},{"s":"E5","g":"b","t":228,"k":31.3},
{"s":"E5","g":"b","t":228.5,"k":32.6},{"s":"E5","g":"b","t":229,"k":33.4},{"s":"E5","g":"b","t":229.5,"k":35.2},{"s":"E5","g":"b","t":230,"k":35.8},{"s":"E5","g":"b","t":230.5,"k":37.8},{"s":"E5","g":"b","t":231,"k":38.6},{"s":"E5","g":"b","t":231.5,"k":40.6},{"s":"E5","g":"b","t":232,"k":41.2},{"s":"E5","g":"b","t":232.5,"k":43.2},{"s":"E5","g":"b","t":233,"k":43.6},
{"s":"E5","g":"b","t":233.5,"k":45.4},{"s":"E5","g":"b","t":234,"k":45.8},{"s":"E5","g":"b","t":234.5,"k":47.6},{"s":"E5","g":"b","t":235,"k":47.8},{"s":"E5","g":"b","t":235.3,"k":49.4},{"s":"E5","g":"b","t":235.5,"k":48.6},
{"s":"E4","g":"a","t":0,"k":1.9},{"s":"E4","g":"a","t":0.5,"k":1.45},{"s":"E4","g":"a","t":1,"k":1.7},{"s":"E4","g":"a","t":1.5,"k":1.35},{"s":"E4","g":"a","t":2,"k":1.5},{"s":"E4","g":"a","t":3,"k":1.38},{"s":"E4","g":"a","t":4,"k":1.42},{"s":"E4","g":"a","t":6,"k":1.35},{"s":"E4","g":"a","t":8,"k":1.4},{"s":"E4","g":"a","t":10,"k":1.36},
{"s":"E4","g":"a","t":12,"k":1.4},{"s":"E4","g":"a","t":15,"k":1.37},{"s":"E4","g":"a","t":18,"k":1.4},{"s":"E4","g":"a","t":21,"k":1.36},{"s":"E4","g":"a","t":24,"k":1.4},{"s":"E4","g":"a","t":27,"k":1.37},{"s":"E4","g":"a","t":30,"k":1.4},{"s":"E4","g":"a","t":33,"k":1.42},{"s":"E4","g":"a","t":36,"k":1.45},{"s":"E4","g":"a","t":39,"k":1.47},
{"s":"E4","g":"a","t":42,"k":1.5},{"s":"E4","g":"a","t":45,"k":1.55},{"s":"E4","g":"a","t":48,"k":1.6},{"s":"E4","g":"a","t":51,"k":1.68},{"s":"E4","g":"a","t":54,"k":1.78},{"s":"E4","g":"a","t":56,"k":1.85},{"s":"E4","g":"a","t":58,"k":1.95},{"s":"E4","g":"a","t":60,"k":2.1},{"s":"E4","g":"a","t":60.7,"k":1.75},{"s":"E4","g":"a","t":61,"k":2.2},
{"s":"E4","g":"a","t":62,"k":2.35},{"s":"E4","g":"a","t":63,"k":2.6},{"s":"E4","g":"a","t":64,"k":3},{"s":"E4","g":"a","t":64.6,"k":3.4},{"s":"E4","g":"a","t":65,"k":3.7},{"s":"E4","g":"a","t":65.5,"k":4.1},{"s":"E4","g":"a","t":66,"k":4.3},{"s":"E4","g":"a","t":66.5,"k":4.8},{"s":"E4","g":"a","t":67,"k":4.9},{"s":"E4","g":"a","t":67.5,"k":5.4},
{"s":"E4","g":"a","t":68,"k":5.3},{"s":"E4","g":"a","t":68.5,"k":5.8},{"s":"E4","g":"a","t":69,"k":5.8},{"s":"E4","g":"a","t":69.5,"k":6.4},{"s":"E4","g":"a","t":70,"k":6.3},{"s":"E4","g":"a","t":70.5,"k":6.9},{"s":"E4","g":"a","t":71,"k":6.8},{"s":"E4","g":"a","t":71.5,"k":7.4},{"s":"E4","g":"a","t":72,"k":7.2},{"s":"E4","g":"a","t":72.5,"k":7.8},
{"s":"E4","g":"a","t":73,"k":7.5},{"s":"E4","g":"a","t":73.5,"k":8.1},{"s":"E4","g":"a","t":74,"k":7.8},{"s":"E4","g":"a","t":74.5,"k":8.4},{"s":"E4","g":"a","t":75,"k":8.1},{"s":"E4","g":"a","t":75.5,"k":8.7},{"s":"E4","g":"a","t":76,"k":8.3},{"s":"E4","g":"a","t":76.5,"k":8.9},{"s":"E4","g":"a","t":77,"k":8.5},{"s":"E4","g":"a","t":77.5,"k":9.1},
{"s":"E4","g":"a","t":78,"k":8.8},{"s":"E4","g":"a","t":78.5,"k":9.4},{"s":"E4","g":"a","t":79,"k":9},{"s":"E4","g":"a","t":79.5,"k":9.6},{"s":"E4","g":"a","t":80,"k":9.2},{"s":"E4","g":"a","t":80.5,"k":9.8},{"s":"E4","g":"a","t":81,"k":9.4},{"s":"E4","g":"a","t":81.5,"k":10},{"s":"E4","g":"a","t":82,"k":9.7},{"s":"E4","g":"a","t":82.5,"k":10.3},
{"s":"E4","g":"a","t":83,"k":9.9},{"s":"E4","g":"a","t":83.5,"k":10.5},{"s":"E4","g":"a","t":84,"k":10.2},{"s":"E4","g":"a","t":84.5,"k":10.8},{"s":"E4","g":"a","t":85,"k":10.3},{"s":"E4","g":"a","t":85.5,"k":10.9},{"s":"E4","g":"a","t":86,"k":10.5},{"s":"E4","g":"a","t":86.5,"k":11.1},{"s":"E4","g":"a","t":87,"k":10.7},{"s":"E4","g":"a","t":87.5,"k":11.2},
{"s":"E4","g":"a","t":88,"k":10.8},{"s":"E4","g":"a","t":88.5,"k":11.4},{"s":"E4","g":"a","t":89,"k":11},{"s":"E4","g":"a","t":89.5,"k":11.5},{"s":"E4","g":"a","t":90,"k":11.1},{"s":"E4","g":"a","t":90.5,"k":11.7},{"s":"E4","g":"a","t":91,"k":11.3},{"s":"E4","g":"a","t":91.5,"k":11.8},{"s":"E4","g":"a","t":92,"k":11.4},{"s":"E4","g":"a","t":92.5,"k":12},
{"s":"E4","g":"a","t":93,"k":11.6},{"s":"E4","g":"a","t":93.5,"k":12.2},{"s":"E4","g":"a","t":94,"k":11.8},{"s":"E4","g":"a","t":94.5,"k":12.4},{"s":"E4","g":"a","t":95,"k":12},{"s":"E4","g":"a","t":95.5,"k":12.7},{"s":"E4","g":"a","t":96,"k":12.3},{"s":"E4","g":"a","t":96.5,"k":13.2},{"s":"E4","g":"a","t":97,"k":13.4},{"s":"E4","g":"a","t":97.5,"k":14.6},
{"s":"E4","g":"a","t":98,"k":15.2},{"s":"E4","g":"a","t":98.5,"k":17},{"s":"E4","g":"a","t":99,"k":17.6},{"s":"E4","g":"a","t":99.5,"k":19.5},{"s":"E4","g":"a","t":100,"k":19.8},{"s":"E4","g":"a","t":100.5,"k":21.8},{"s":"E4","g":"a","t":101,"k":21.2},{"s":"E4","g":"a","t":101.5,"k":23},{"s":"E4","g":"a","t":102,"k":22.4},{"s":"E4","g":"a","t":102.4,"k":25.3},
{"s":"E4","g":"a","t":102.8,"k":23.8},{"s":"E4","g":"a","t":103.2,"k":27},{"s":"E4","g":"a","t":103.5,"k":29},{"s":"E4","g":"a","t":103.9,"k":32.9},
{"s":"B8","g":"a","t":5.5,"k":29.9},{"s":"B8","g":"a","t":6.5,"k":28.8},{"s":"B8","g":"a","t":7.5,"k":27.6},{"s":"B8","g":"a","t":8.5,"k":30.6},{"s":"B8","g":"a","t":9.5,"k":28.4},{"s":"B8","g":"a","t":10.5,"k":29.1},{"s":"B8","g":"a","t":11.5,"k":27.8},{"s":"B8","g":"a","t":12.5,"k":30.4},{"s":"B8","g":"a","t":13.5,"k":28.9},{"s":"B8","g":"a","t":14.5,"k":29.7},
{"s":"B8","g":"a","t":15.5,"k":27.9},{"s":"B8","g":"a","t":16.5,"k":30.8},{"s":"B8","g":"a","t":17.5,"k":28.7},{"s":"B8","g":"a","t":18.5,"k":30.9},{"s":"B8","g":"a","t":19.5,"k":29.1},{"s":"B8","g":"a","t":20.5,"k":27.4},{"s":"B8","g":"a","t":21.5,"k":28.3},{"s":"B8","g":"a","t":22.5,"k":29.6},{"s":"B8","g":"a","t":23.5,"k":27.2},{"s":"B8","g":"a","t":24.5,"k":28.9},
{"s":"B8","g":"a","t":25.5,"k":26.9},{"s":"B8","g":"a","t":26.5,"k":29.8},{"s":"B8","g":"a","t":27.5,"k":27.6},{"s":"B8","g":"a","t":28.5,"k":28.8},{"s":"B8","g":"a","t":29.5,"k":27.1},{"s":"B8","g":"a","t":30.5,"k":29.4},{"s":"B8","g":"a","t":31.5,"k":27.3},{"s":"B8","g":"a","t":32.5,"k":28.1},{"s":"B8","g":"a","t":33.5,"k":26.8},{"s":"B8","g":"a","t":34.5,"k":29.6},
{"s":"B8","g":"a","t":35.5,"k":28.3},{"s":"B8","g":"a","t":36.5,"k":30.1},{"s":"B8","g":"a","t":37.5,"k":27.7},{"s":"B8","g":"a","t":38.5,"k":28.6},{"s":"B8","g":"a","t":39.5,"k":27.5},{"s":"B8","g":"a","t":40.5,"k":29.5},{"s":"B8","g":"a","t":41.5,"k":27.3},{"s":"B8","g":"a","t":42.5,"k":28.4},{"s":"B8","g":"a","t":43.5,"k":27.6},{"s":"B8","g":"a","t":44.5,"k":30.3},
{"s":"B8","g":"a","t":45.5,"k":28.4},{"s":"B8","g":"a","t":46.5,"k":30.1},{"s":"B8","g":"a","t":47.5,"k":28.2},{"s":"B8","g":"a","t":48.5,"k":29.9},{"s":"B8","g":"a","t":49.5,"k":27.8},{"s":"B8","g":"a","t":50.5,"k":30.4},{"s":"B8","g":"a","t":51.5,"k":28.9},{"s":"B8","g":"a","t":52.5,"k":30.6},{"s":"B8","g":"a","t":53.5,"k":28.1},{"s":"B8","g":"a","t":54.5,"k":29.7},
{"s":"B8","g":"a","t":55.5,"k":28.5},{"s":"B8","g":"a","t":56.5,"k":30.5},{"s":"B8","g":"a","t":57.5,"k":28.1},{"s":"B8","g":"a","t":58.5,"k":29.4},{"s":"B8","g":"a","t":59.5,"k":27.9},{"s":"B8","g":"a","t":60.5,"k":29.6},{"s":"B8","g":"a","t":61.5,"k":27.6},{"s":"B8","g":"a","t":62.5,"k":28.4},{"s":"B8","g":"a","t":63.5,"k":27.1},{"s":"B8","g":"a","t":64.5,"k":29.9},
{"s":"B8","g":"a","t":65.5,"k":27.4},{"s":"B8","g":"a","t":66.5,"k":28.9},{"s":"B8","g":"a","t":67.5,"k":27.7},{"s":"B8","g":"a","t":68.5,"k":29.6},{"s":"B8","g":"a","t":69.5,"k":27.5},{"s":"B8","g":"a","t":70.5,"k":28.3},{"s":"B8","g":"a","t":71.5,"k":27.2},{"s":"B8","g":"a","t":72.5,"k":29.9},{"s":"B8","g":"a","t":73.5,"k":27.6},{"s":"B8","g":"a","t":74.5,"k":28.5},
{"s":"B8","g":"a","t":75.5,"k":26.8},{"s":"B8","g":"a","t":76.5,"k":29.7},{"s":"B8","g":"a","t":77.5,"k":27.2},{"s":"B8","g":"a","t":78.5,"k":28.9},{"s":"B8","g":"a","t":79.5,"k":27.4},{"s":"B8","g":"a","t":80.5,"k":29.3},{"s":"B8","g":"a","t":81.5,"k":26.9},{"s":"B8","g":"a","t":82.5,"k":28.7},{"s":"B8","g":"a","t":83.5,"k":27.4},{"s":"B8","g":"a","t":84.5,"k":29.4},
{"s":"B8","g":"a","t":85.5,"k":27.3},{"s":"B8","g":"a","t":86.5,"k":28.6},{"s":"B8","g":"a","t":87.5,"k":26.9},{"s":"B8","g":"a","t":88.5,"k":29.2},{"s":"B8","g":"a","t":89.5,"k":26.7},{"s":"B8","g":"a","t":90.5,"k":28.4},{"s":"B8","g":"a","t":91.5,"k":27.1},{"s":"B8","g":"a","t":92.5,"k":28.8},{"s":"B8","g":"a","t":93.5,"k":26.4},{"s":"B8","g":"a","t":94.5,"k":29.1},
{"s":"B8","g":"a","t":95.5,"k":27.3},{"s":"B8","g":"a","t":96.5,"k":28.9},{"s":"B8","g":"a","t":97.5,"k":26.9},{"s":"B8","g":"a","t":98.5,"k":28.6},{"s":"B8","g":"a","t":99.5,"k":27.1},{"s":"B8","g":"a","t":100.5,"k":29.4},{"s":"B8","g":"a","t":101.5,"k":29.6},{"s":"B8","g":"a","t":102.5,"k":30.4},{"s":"B8","g":"a","t":103.5,"k":29.1},{"s":"B8","g":"a","t":104.5,"k":30.9},
{"s":"B8","g":"a","t":105.5,"k":29.4},{"s":"B8","g":"a","t":106.5,"k":30.5},{"s":"B8","g":"a","t":107.5,"k":28.9},{"s":"B8","g":"a","t":108.5,"k":30.8},{"s":"B8","g":"a","t":109.5,"k":28.8},{"s":"B8","g":"a","t":110.5,"k":30.4},{"s":"B8","g":"a","t":111.5,"k":29.2},{"s":"B8","g":"a","t":112.5,"k":28.8},{"s":"B8","g":"a","t":113.5,"k":26.9},{"s":"B8","g":"a","t":114.5,"k":28.6},
{"s":"B8","g":"a","t":115.5,"k":27.4},{"s":"B8","g":"a","t":116.5,"k":29.1},{"s":"B8","g":"a","t":117.5,"k":26.8},{"s":"B8","g":"a","t":118.5,"k":28.7},{"s":"B8","g":"a","t":119.5,"k":25.9},{"s":"B8","g":"a","t":120.5,"k":28.5},{"s":"B8","g":"a","t":121.5,"k":27.2},{"s":"B8","g":"a","t":122.5,"k":28.8},{"s":"B8","g":"a","t":123.5,"k":26.6},
{"s":"B8","g":"c","t":171.5,"k":28.3},{"s":"B8","g":"c","t":172.5,"k":27.6},{"s":"B8","g":"c","t":173.5,"k":26.9},{"s":"B8","g":"c","t":174.5,"k":28.8},{"s":"B8","g":"c","t":175.5,"k":28.1},{"s":"B8","g":"c","t":176.5,"k":29.9},{"s":"B8","g":"c","t":177.5,"k":28.4},{"s":"B8","g":"c","t":178.5,"k":29.1},{"s":"B8","g":"c","t":179.5,"k":28},{"s":"B8","g":"c","t":180.5,"k":29.6},
{"s":"B8","g":"c","t":181.5,"k":27.8},{"s":"B8","g":"c","t":182.5,"k":28.9},{"s":"B8","g":"c","t":183.5,"k":26.9},{"s":"B8","g":"c","t":184.5,"k":28.2},{"s":"B8","g":"c","t":185.5,"k":27.4},{"s":"B8","g":"c","t":186.5,"k":26.1},{"s":"B8","g":"c","t":187.5,"k":27.3},{"s":"B8","g":"c","t":188.5,"k":25.8},{"s":"B8","g":"c","t":189.5,"k":27.2},{"s":"B8","g":"c","t":190.5,"k":28.7},
{"s":"B8","g":"c","t":191.5,"k":28.1},{"s":"B8","g":"c","t":192.5,"k":29.8},{"s":"B8","g":"c","t":193.5,"k":28.2},{"s":"B8","g":"c","t":194.5,"k":29},{"s":"B8","g":"c","t":195.5,"k":27.5},{"s":"B8","g":"c","t":196.5,"k":28.4},{"s":"B8","g":"c","t":197.5,"k":27.4},{"s":"B8","g":"c","t":198.5,"k":28.8},{"s":"B8","g":"c","t":199.5,"k":27.6},{"s":"B8","g":"c","t":200.5,"k":29.2},
{"s":"B8","g":"c","t":201.5,"k":28.4},{"s":"B8","g":"c","t":202.5,"k":28.8},{"s":"B8","g":"c","t":203.5,"k":27.2},{"s":"B8","g":"c","t":204.5,"k":28.1},{"s":"B8","g":"c","t":205.5,"k":26.9},{"s":"B8","g":"c","t":206.5,"k":27.6},{"s":"B8","g":"c","t":207.5,"k":26.4},{"s":"B8","g":"c","t":208.5,"k":27.1},{"s":"B8","g":"c","t":209.5,"k":25.9},{"s":"B8","g":"c","t":210.5,"k":27.6},
{"s":"B8","g":"c","t":211.5,"k":26.2},{"s":"B8","g":"c","t":212.5,"k":27.1},{"s":"B8","g":"c","t":213.5,"k":25.8},{"s":"B8","g":"c","t":214.5,"k":26.6},{"s":"B8","g":"c","t":215.5,"k":25.8},{"s":"B8","g":"c","t":216.5,"k":26.5},{"s":"B8","g":"c","t":217.5,"k":25.5},{"s":"B8","g":"c","t":218.5,"k":26.8},{"s":"B8","g":"c","t":220.5,"k":25.4},{"s":"B8","g":"c","t":221.5,"k":26.2},
{"s":"B8","g":"c","t":222.5,"k":25.3},{"s":"B8","g":"c","t":223.5,"k":26.5},{"s":"B8","g":"c","t":224.5,"k":25.7},{"s":"B8","g":"c","t":225.5,"k":26.4},{"s":"B8","g":"c","t":226.5,"k":25.6},{"s":"B8","g":"c","t":227.5,"k":27.2},{"s":"B8","g":"c","t":228.5,"k":27.4},{"s":"B8","g":"c","t":229.5,"k":28.5},{"s":"B8","g":"c","t":230.5,"k":26.8},{"s":"B8","g":"c","t":231.5,"k":28.6},
{"s":"B8","g":"c","t":232.5,"k":26.7},{"s":"B8","g":"c","t":233.5,"k":27.5},{"s":"B8","g":"c","t":234.5,"k":26.9},{"s":"B8","g":"c","t":235.5,"k":28.2},{"s":"B8","g":"c","t":236.5,"k":27.3},{"s":"B8","g":"c","t":237.5,"k":28.4},
{"s":"B8","g":"e","t":266.5,"k":26.6},{"s":"B8","g":"e","t":267.5,"k":27.3},{"s":"B8","g":"e","t":268.5,"k":26.2},{"s":"B8","g":"e","t":269.5,"k":27.4},{"s":"B8","g":"e","t":270.5,"k":26.1},{"s":"B8","g":"e","t":271.5,"k":27.5},{"s":"B8","g":"e","t":272.5,"k":26.6},{"s":"B8","g":"e","t":273.5,"k":27.8},{"s":"B8","g":"e","t":274.5,"k":25.9},{"s":"B8","g":"e","t":275.5,"k":27.3},
{"s":"B8","g":"e","t":276.5,"k":26},{"s":"B8","g":"e","t":277.5,"k":27.1},{"s":"B8","g":"e","t":278.5,"k":25.7},{"s":"B8","g":"e","t":279.5,"k":27.4},{"s":"B8","g":"e","t":280.5,"k":25.9},{"s":"B8","g":"e","t":281.5,"k":27.1},{"s":"B8","g":"e","t":282.5,"k":27},{"s":"B8","g":"e","t":283.5,"k":28.3},{"s":"B8","g":"e","t":284.5,"k":27.1},{"s":"B8","g":"e","t":285.5,"k":28.1},
{"s":"B8","g":"e","t":287.5,"k":27.6},{"s":"B8","g":"e","t":288.5,"k":27.2},{"s":"B8","g":"e","t":289.5,"k":28.1},{"s":"B8","g":"e","t":290.5,"k":26.6},{"s":"B8","g":"e","t":291.5,"k":28.2},{"s":"B8","g":"e","t":292.5,"k":27.3},{"s":"B8","g":"e","t":293.5,"k":28.4},{"s":"B8","g":"e","t":294.5,"k":27.6},{"s":"B8","g":"e","t":295.5,"k":28.7},{"s":"B8","g":"e","t":296.5,"k":27.3},
{"s":"B8","g":"e","t":297.5,"k":28.2},{"s":"B8","g":"e","t":298.5,"k":26.5},{"s":"B8","g":"e","t":299.5,"k":27.4},{"s":"B8","g":"e","t":300.5,"k":26},{"s":"B8","g":"e","t":301.5,"k":25.8},{"s":"B8","g":"e","t":302.5,"k":24.9},{"s":"B8","g":"e","t":303.5,"k":25.5},{"s":"B8","g":"e","t":304.5,"k":24.9},{"s":"B8","g":"e","t":305.5,"k":25.9},{"s":"B8","g":"e","t":306.5,"k":24.7},
{"s":"B5","g":"a","t":1.5,"k":15.4},{"s":"B5","g":"a","t":2.5,"k":16.8},{"s":"B5","g":"a","t":3.5,"k":15.5},{"s":"B5","g":"a","t":4.5,"k":16.6},{"s":"B5","g":"a","t":5.5,"k":15.7},{"s":"B5","g":"a","t":6.5,"k":17.2},{"s":"B5","g":"a","t":7.5,"k":15.9},{"s":"B5","g":"a","t":8.5,"k":17.9},{"s":"B5","g":"a","t":9.5,"k":15.6},{"s":"B5","g":"a","t":10.5,"k":16.6},
{"s":"B5","g":"a","t":11.5,"k":15.2},{"s":"B5","g":"a","t":12.5,"k":16.5},{"s":"B5","g":"a","t":13.5,"k":15.3},{"s":"B5","g":"a","t":14.5,"k":15.9},{"s":"B5","g":"a","t":15.5,"k":15},{"s":"B5","g":"a","t":16.5,"k":15.7},{"s":"B5","g":"a","t":17.5,"k":15.3},{"s":"B5","g":"a","t":18.5,"k":17.1},{"s":"B5","g":"a","t":19.5,"k":16},{"s":"B5","g":"a","t":20.5,"k":17.9},
{"s":"B5","g":"a","t":21.5,"k":16.2},{"s":"B5","g":"a","t":22.5,"k":17.3},{"s":"B5","g":"a","t":23.5,"k":15.7},{"s":"B5","g":"a","t":24.5,"k":16.4},{"s":"B5","g":"a","t":25.5,"k":15.4},{"s":"B5","g":"a","t":26.5,"k":16.2},{"s":"B5","g":"a","t":27.5,"k":15.2},{"s":"B5","g":"a","t":28.5,"k":16.1},{"s":"B5","g":"a","t":29.5,"k":15.4},{"s":"B5","g":"a","t":30.5,"k":16.8},
{"s":"B5","g":"a","t":31.5,"k":16},{"s":"B5","g":"a","t":32.5,"k":17.6},{"s":"B5","g":"a","t":33.5,"k":16.1},{"s":"B5","g":"a","t":34.5,"k":16.9},{"s":"B5","g":"a","t":35.5,"k":15.9},{"s":"B5","g":"a","t":36.5,"k":17.3},{"s":"B5","g":"a","t":37.5,"k":15.7},{"s":"B5","g":"a","t":38.5,"k":16.4},{"s":"B5","g":"a","t":39.5,"k":15.6},{"s":"B5","g":"a","t":40.5,"k":16.5},
{"s":"B5","g":"a","t":41.5,"k":15.4},{"s":"B5","g":"a","t":42.5,"k":16.2},{"s":"B5","g":"a","t":43.5,"k":15.5},{"s":"B5","g":"a","t":44.5,"k":16.3},{"s":"B5","g":"a","t":45.5,"k":15.2},{"s":"B5","g":"a","t":46.5,"k":16.1},{"s":"B5","g":"a","t":47.5,"k":15.3},{"s":"B5","g":"a","t":48.5,"k":16},{"s":"B5","g":"a","t":49.5,"k":15.7},{"s":"B5","g":"a","t":50.5,"k":16.8},
{"s":"B5","g":"a","t":51.5,"k":16.6},{"s":"B5","g":"a","t":52.5,"k":17.6},{"s":"B5","g":"a","t":53.5,"k":16.8},{"s":"B5","g":"a","t":54.5,"k":17.8},{"s":"B5","g":"a","t":55.5,"k":16.9},{"s":"B5","g":"a","t":56.5,"k":17.6},{"s":"B5","g":"a","t":57.5,"k":16.8},{"s":"B5","g":"a","t":58.5,"k":18.2},{"s":"B5","g":"a","t":59.5,"k":16.4},{"s":"B5","g":"a","t":60.5,"k":17.3},
{"s":"B5","g":"a","t":61.5,"k":15.9},{"s":"B5","g":"a","t":62.5,"k":16.6},{"s":"B5","g":"a","t":63.5,"k":15.5},{"s":"B5","g":"a","t":64.5,"k":16.3},{"s":"B5","g":"a","t":65.5,"k":15.4},{"s":"B5","g":"a","t":66.5,"k":16.2},{"s":"B5","g":"a","t":67.5,"k":15.4},{"s":"B5","g":"a","t":68.5,"k":16.1},{"s":"B5","g":"a","t":69.5,"k":15.6},{"s":"B5","g":"a","t":70.5,"k":16.6},
{"s":"B5","g":"a","t":71.5,"k":16.2},{"s":"B5","g":"a","t":72.5,"k":17.6},{"s":"B5","g":"a","t":73.5,"k":16.8},{"s":"B5","g":"a","t":74.5,"k":18.4},{"s":"B5","g":"a","t":75.5,"k":16.7},{"s":"B5","g":"a","t":76.5,"k":17.5},{"s":"B5","g":"a","t":77.5,"k":16.4},{"s":"B5","g":"a","t":78.5,"k":17.4},{"s":"B5","g":"a","t":79.5,"k":15.9},{"s":"B5","g":"a","t":80.5,"k":16.6},
{"s":"B5","g":"a","t":81.5,"k":15.6},{"s":"B5","g":"a","t":82.5,"k":16.4},{"s":"B5","g":"a","t":83.5,"k":15.8},{"s":"B5","g":"a","t":84.5,"k":16.7},{"s":"B5","g":"a","t":85.5,"k":15.6},{"s":"B5","g":"a","t":86.5,"k":16.2},{"s":"B5","g":"a","t":87.5,"k":15.9},{"s":"B5","g":"a","t":88.5,"k":17.6},{"s":"B5","g":"a","t":89.5,"k":16.1},{"s":"B5","g":"a","t":90.5,"k":17.3},
{"s":"B5","g":"a","t":91.5,"k":15.9},{"s":"B5","g":"a","t":92.5,"k":16.7},{"s":"B5","g":"a","t":93.5,"k":15.6},{"s":"B5","g":"a","t":94.5,"k":16.3},{"s":"B5","g":"a","t":95.5,"k":15.3},{"s":"B5","g":"a","t":96.5,"k":15.9},{"s":"B5","g":"a","t":97.5,"k":15.2},{"s":"B5","g":"a","t":98.5,"k":16.1},{"s":"B5","g":"a","t":99.5,"k":16.3},{"s":"B5","g":"a","t":100.5,"k":17.4},
{"s":"B5","g":"a","t":101.5,"k":16.5},{"s":"B5","g":"a","t":102.5,"k":17.7},
{"s":"B5","g":"b","t":113.5,"k":15.3},{"s":"B5","g":"b","t":114.5,"k":16.1},{"s":"B5","g":"b","t":115.5,"k":15.5},{"s":"B5","g":"b","t":116.5,"k":16.4},{"s":"B5","g":"b","t":117.5,"k":15.2},{"s":"B5","g":"b","t":118.5,"k":16.1},{"s":"B5","g":"b","t":119.5,"k":15.5},{"s":"B5","g":"b","t":120.5,"k":16.4},{"s":"B5","g":"b","t":121.5,"k":16},{"s":"B5","g":"b","t":122.5,"k":17.4},
{"s":"B5","g":"b","t":123.5,"k":16.3},{"s":"B5","g":"b","t":124.5,"k":17.2},{"s":"B5","g":"b","t":125.5,"k":16.5},{"s":"B5","g":"b","t":126.5,"k":17.6},{"s":"B5","g":"b","t":127.5,"k":16.4},{"s":"B5","g":"b","t":128.5,"k":17.5},{"s":"B5","g":"b","t":129.5,"k":16.1},{"s":"B5","g":"b","t":130.5,"k":16.9},{"s":"B5","g":"b","t":131.5,"k":15.6},{"s":"B5","g":"b","t":132.5,"k":16.2},
{"s":"B5","g":"b","t":133.5,"k":15.4},{"s":"B5","g":"b","t":134.5,"k":16.9},{"s":"B5","g":"b","t":135.5,"k":16.4},{"s":"B5","g":"b","t":136.5,"k":17.8},{"s":"B5","g":"b","t":137.5,"k":16.7},{"s":"B5","g":"b","t":138.5,"k":17.9},{"s":"B5","g":"b","t":139.5,"k":16.5},{"s":"B5","g":"b","t":140.5,"k":17.4},{"s":"B5","g":"b","t":141.5,"k":16.3},{"s":"B5","g":"b","t":142.5,"k":17.1},
{"s":"B5","g":"b","t":143.5,"k":16.5},{"s":"B5","g":"b","t":144.5,"k":17.3},{"s":"B5","g":"b","t":145.5,"k":16.3},{"s":"B5","g":"b","t":146.5,"k":17.6},{"s":"B5","g":"b","t":147.5,"k":17},{"s":"B5","g":"b","t":148.5,"k":17.8},{"s":"B5","g":"b","t":149.5,"k":16.6},{"s":"B5","g":"b","t":150.5,"k":17.9},{"s":"B5","g":"b","t":151.5,"k":16.9},{"s":"B5","g":"b","t":152.5,"k":18.1},
{"s":"B5","g":"b","t":153.5,"k":16.7},{"s":"B5","g":"b","t":154.5,"k":17.4},{"s":"B5","g":"b","t":155.5,"k":16.8},{"s":"B5","g":"b","t":156.5,"k":18.3},{"s":"B5","g":"b","t":157.5,"k":16.7},{"s":"B5","g":"b","t":158.5,"k":17.4},{"s":"B5","g":"b","t":159.5,"k":16.9},{"s":"B5","g":"b","t":160.5,"k":18},{"s":"B5","g":"b","t":161.5,"k":16.6},{"s":"B5","g":"b","t":162.5,"k":17.3},
{"s":"B5","g":"b","t":163.5,"k":16.8},{"s":"B5","g":"b","t":164.5,"k":17.9},{"s":"B5","g":"b","t":165.5,"k":16.5},{"s":"B5","g":"b","t":166.5,"k":17.4},{"s":"B5","g":"b","t":167.5,"k":16.9},{"s":"B5","g":"b","t":168.5,"k":18.2},{"s":"B5","g":"b","t":169.5,"k":17.3},{"s":"B5","g":"b","t":170.5,"k":18.6},{"s":"B5","g":"b","t":171.5,"k":17.2},{"s":"B5","g":"b","t":172.5,"k":18.4},
{"s":"B5","g":"b","t":173.5,"k":17.3},{"s":"B5","g":"b","t":174.5,"k":18.8},{"s":"B5","g":"b","t":175.5,"k":17.2},{"s":"B5","g":"b","t":176.5,"k":18.1},{"s":"B5","g":"b","t":177.5,"k":17.4},{"s":"B5","g":"b","t":178.5,"k":18.3},{"s":"B5","g":"b","t":179.5,"k":17},{"s":"B5","g":"b","t":180.5,"k":17.7},{"s":"B5","g":"b","t":181.5,"k":16.5},{"s":"B5","g":"b","t":182.5,"k":17.1},
{"s":"B5","g":"b","t":183.5,"k":16.4},{"s":"B5","g":"b","t":184.5,"k":17.3},{"s":"B5","g":"b","t":185.5,"k":16.6},{"s":"B5","g":"b","t":186.5,"k":17.8},{"s":"B5","g":"b","t":187.5,"k":17.2},{"s":"B5","g":"b","t":188.5,"k":18.4},{"s":"B5","g":"b","t":189.5,"k":16.8},{"s":"B5","g":"b","t":190.5,"k":17.5},{"s":"B5","g":"b","t":191.5,"k":16.5},{"s":"B5","g":"b","t":192.5,"k":17.4},
{"s":"B5","g":"b","t":193.5,"k":16.4},{"s":"B5","g":"b","t":194.5,"k":17.2},{"s":"B5","g":"b","t":195.5,"k":16.6},{"s":"B5","g":"b","t":196.5,"k":17.9},{"s":"B5","g":"b","t":197.5,"k":17.6},{"s":"B5","g":"b","t":198.5,"k":18.5},{"s":"B5","g":"b","t":199.5,"k":17.3},{"s":"B5","g":"b","t":200.5,"k":18.2},{"s":"B5","g":"b","t":201.5,"k":16.8},{"s":"B5","g":"b","t":202.5,"k":16.5},
{"s":"B5","g":"b","t":203.5,"k":16},{"s":"B5","g":"b","t":204.5,"k":16.5},{"s":"B5","g":"b","t":205.5,"k":15.8},{"s":"B5","g":"b","t":206.5,"k":16.4},{"s":"B5","g":"b","t":207.5,"k":15.7},{"s":"B5","g":"b","t":208.5,"k":16.4},{"s":"B5","g":"b","t":209.5,"k":16},{"s":"B5","g":"b","t":210.5,"k":16.7},{"s":"B5","g":"b","t":211.5,"k":16},{"s":"B5","g":"b","t":212.5,"k":16.7},
{"s":"B5","g":"b","t":213.5,"k":16.5},{"s":"B5","g":"b","t":214.5,"k":17.5},{"s":"B5","g":"b","t":215.5,"k":17},{"s":"B5","g":"b","t":216.5,"k":18},{"s":"B5","g":"b","t":217.5,"k":17.3},{"s":"B5","g":"b","t":218.5,"k":18.5},{"s":"B5","g":"b","t":219.5,"k":17.2},{"s":"B5","g":"b","t":220.5,"k":18.1},{"s":"B5","g":"b","t":221.5,"k":17.1},{"s":"B5","g":"b","t":222.5,"k":18.3},
{"s":"B5","g":"b","t":223.5,"k":16.9},{"s":"B5","g":"b","t":224.5,"k":17.9},{"s":"B5","g":"b","t":225.5,"k":17.4},{"s":"B5","g":"b","t":226.5,"k":18.9},{"s":"B5","g":"b","t":227.5,"k":17.2},{"s":"B5","g":"b","t":228.5,"k":17.9},{"s":"B5","g":"b","t":229.5,"k":17.2},{"s":"B5","g":"b","t":230.5,"k":18.3},{"s":"B5","g":"b","t":231.5,"k":17.2},{"s":"B5","g":"b","t":232.5,"k":18},
{"s":"B5","g":"b","t":233.5,"k":16.9},
{"s":"E5","g":"b","t":228.25,"k":30.6},{"s":"E5","g":"b","t":228.75,"k":33.5},{"s":"E5","g":"b","t":229.25,"k":33.1},{"s":"E5","g":"b","t":229.75,"k":35.9},{"s":"E5","g":"b","t":230.25,"k":35.2},{"s":"E5","g":"b","t":230.75,"k":38.5},{"s":"E5","g":"b","t":231.25,"k":38.2},{"s":"E5","g":"b","t":231.75,"k":41.4},{"s":"E5","g":"b","t":232.25,"k":40.6},{"s":"E5","g":"b","t":232.75,"k":44.1},
{"s":"E5","g":"b","t":233.25,"k":43},{"s":"E5","g":"b","t":233.75,"k":46.2},{"s":"E5","g":"b","t":234.25,"k":45.4},{"s":"E5","g":"b","t":234.75,"k":48.4},{"s":"E5","g":"b","t":235.1,"k":47.5},{"s":"E5","g":"b","t":235.4,"k":49.6}
]},
"data":{"name":"pts"},
"mark":{"type":"line","strokeWidth":2},
"encoding":{
 "x":{"field":"t","type":"quantitative","scale":{"domain":[0,400],"nice":false,"zero":false},
  "axis":{"orient":"bottom","values":[0,25,50,75,100,125,150,175,200,225,250,275,300,325,350,375,400],
   "labelExpr":"datum.value % 50 === 0 ? datum.label : ''",
   "grid":false,"domainWidth":3,"domainColor":"#000","domainCap":"square",
   "tickWidth":{"condition":{"test":"datum.value % 50 === 0","value":3},"value":2.5},
   "tickSize":{"condition":{"test":"datum.value % 50 === 0","value":10},"value":6},
   "tickColor":"#000","labelFontSize":19,"labelColor":"#222","labelPadding":8,"labelFlush":false,"labelOverlap":false,
   "title":"Time (h)","titleFontSize":26,"titleFontWeight":"normal","titleColor":"#222","titlePadding":9}},
 "y":{"field":"k","type":"quantitative","scale":{"domain":[0,50],"nice":false},
  "axis":{"orient":"left","values":[0,5,10,15,20,25,30,35,40,45,50],
   "labelExpr":"datum.value % 10 === 0 ? datum.label : ''",
   "grid":false,"domainWidth":3,"domainColor":"#000","domainCap":"square",
   "tickWidth":{"condition":{"test":"datum.value % 10 === 0","value":3},"value":2.5},
   "tickSize":{"condition":{"test":"datum.value % 10 === 0","value":11},"value":6},
   "tickColor":"#000","labelFontSize":19,"labelColor":"#222","labelPadding":5,"labelFlush":false,"labelOverlap":false,
   "title":"Permeability k (x 10⁻¹² m²)","titleFontSize":24,"titleFontWeight":"normal","titleColor":"#222","titlePadding":28}},
 "color":{"field":"s","type":"nominal",
  "scale":{"domain":["E4","E5","B5","B8"],"range":["#e8502a","#111111","#159a47","#3d2b8c"]},
  "legend":{"orient":"none","legendX":74.7,"legendY":-8.7,"title":null,"direction":"vertical",
    "symbolType":"M-3,0H3","symbolSize":256,"symbolStrokeWidth":3.5,"symbolFillColor":"transparent","symbolOffset":205.3,
    "labelOffset":-229.3,"labelFont":"Open Sans","labelFontSize":24,"labelFontStyle":"italic","labelColor":"#222","labelLimit":400,
    "padding":15,"rowPadding":9.3,"strokeColor":"#222","fillColor":"white",
    "labelExpr":"datum.label == 'E4' ? 'Euville 4 (pH =4)' : datum.label == 'E5' ? 'Euville 5 (pH =5)' : datum.label == 'B5' ? 'Blanca 5 (pH =5)' : 'Blanca 8 (pH =4)'"}},
 "detail":{"field":"g","type":"nominal"},
 "order":{"field":"t","type":"quantitative"}
}
}
